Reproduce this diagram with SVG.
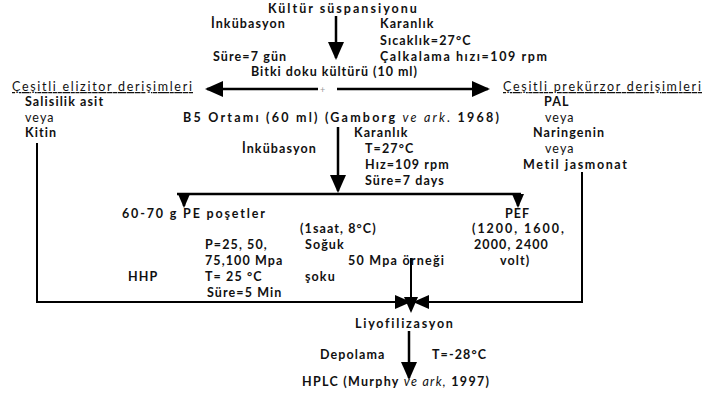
<svg xmlns="http://www.w3.org/2000/svg" width="708" height="400" viewBox="0 0 708 400">
<style>
text{font-family:Lato,"Open Sans","Liberation Sans",sans-serif;font-size:12.5px;font-weight:700;fill:#111;letter-spacing:1.1px}
.r{font-weight:400}
.i{font-style:italic;font-weight:400}
.u{text-decoration:underline;font-weight:400}
.ln{fill:none;stroke:#000;stroke-width:2.5}
.th{fill:none;stroke:#000;stroke-width:2}
</style>
<defs>
<marker id="big" markerUnits="userSpaceOnUse" markerWidth="20" markerHeight="18" refX="16" refY="8" orient="auto" viewBox="0 0 20 18"><path d="M0,0 L18,8 L0,16 z" fill="#000"/></marker>
<marker id="mid" markerUnits="userSpaceOnUse" markerWidth="18" markerHeight="16" refX="14" refY="7" orient="auto" viewBox="0 0 18 16"><path d="M0,0 L16,7 L0,14 z" fill="#000"/></marker>
<marker id="sm" markerUnits="userSpaceOnUse" markerWidth="16" markerHeight="14" refX="12" refY="6" orient="auto" viewBox="0 0 16 14"><path d="M0,0 L14,6 L0,12 z" fill="#000"/></marker>
</defs>
<g id="connectors">
<path class="ln" d="M336,16 V58" marker-end="url(#big)"/>
<path class="ln" d="M318,89 H207" marker-end="url(#big)"/>
<path class="ln" d="M337,89 H488" marker-end="url(#big)"/>
<text x="320" y="93" style="font-size:9px;font-weight:400;fill:#999;letter-spacing:0">+</text>
<path class="ln" d="M338,127 V191" marker-end="url(#big)"/>
<path class="ln" d="M177,194 H521"/>
<path class="ln" d="M184,194 V206" marker-end="url(#sm)"/>
<path class="ln" d="M518,194 V206" marker-end="url(#sm)"/>
<path class="th" d="M37,143 V302 H409" marker-end="url(#mid)"/>
<path class="th" d="M582,172 V302 H415" marker-end="url(#mid)"/>
<path class="th" d="M411,258 V311" marker-end="url(#mid)"/>
<path class="ln" d="M409,331 V378" marker-end="url(#big)"/>
</g>
<g id="culture">
<text x="268" y="13" textLength="150" lengthAdjust="spacing">Kültür süspansiyonu</text>
<text x="211" y="28">İnkübasyon</text>
<text x="380" y="28">Karanlık</text>
<text x="380" y="45">Sıcaklık=27°C</text>
<text x="213" y="61">Süre=7 gün</text>
<text x="380" y="61" textLength="168" lengthAdjust="spacing">Çalkalama hızı=109 rpm</text>
</g>
<g id="tissue">
<text x="251" y="76" textLength="167" lengthAdjust="spacing">Bitki doku kültürü (10 ml)</text>
</g>
<g id="elicitor">
<text class="u" x="12" y="91" textLength="181" lengthAdjust="spacing">Çeşitli elizitor derişimleri</text>
<text x="25" y="106">Salisilik asit</text>
<text class="r" x="25" y="122">veya</text>
<text x="25" y="137">Kitin</text>
</g>
<g id="b5">
<text x="183" y="122" textLength="317" lengthAdjust="spacing">B5 Ortamı (60 ml) (Gamborg  <tspan class="i">ve ark.</tspan> 1968)</text>
<text x="354" y="137">Karanlık</text>
<text x="242" y="153">İnkübasyon</text>
<text x="365" y="153">T=27°C</text>
<text x="365" y="169">Hız=109 rpm</text>
<text x="365" y="185">Süre=7 days</text>
</g>
<g id="precursor">
<text class="u" x="503" y="91" textLength="199" lengthAdjust="spacing">Çeşitli prekürzor derişimleri</text>
<text x="544" y="106">PAL</text>
<text class="r" x="545" y="122">veya</text>
<text x="533" y="137">Naringenin</text>
<text class="r" x="545" y="153">veya</text>
<text x="523" y="169" textLength="105" lengthAdjust="spacing">Metil jasmonat</text>
</g>
<g id="hhp">
<text x="122" y="218" textLength="144" lengthAdjust="spacing">60-70 g  PE poşetler</text>
<text x="205" y="249">P=25, 50,</text>
<text x="205" y="265">75,100 Mpa</text>
<text x="128" y="281">HHP</text>
<text x="205" y="281">T= 25 °C</text>
<text x="207" y="297">Süre=5 Min</text>
</g>
<g id="coldshock">
<text x="300" y="233">(1saat, 8°C)</text>
<text x="305" y="249">Soğuk</text>
<text x="305" y="281">şoku</text>
</g>
<g id="sample50">
<text x="348" y="265" textLength="97" lengthAdjust="spacing">50 Mpa  örneği</text>
</g>
<g id="pef">
<text x="505" y="218">PEF</text>
<text x="472" y="233" textLength="93" lengthAdjust="spacing">(1200, 1600,</text>
<text x="474" y="249">2000, 2400</text>
<text x="500" y="265">volt)</text>
</g>
<g id="lyo">
<text x="355" y="328" textLength="99" lengthAdjust="spacing">Liyofilizasyon</text>
<text x="320" y="359">Depolama</text>
<text x="432" y="359">T=-28°C</text>
</g>
<g id="hplc">
<text x="302" y="386" textLength="188" lengthAdjust="spacing">HPLC (Murphy <tspan class="i">ve ark,</tspan> 1997)</text>
</g>
</svg>
